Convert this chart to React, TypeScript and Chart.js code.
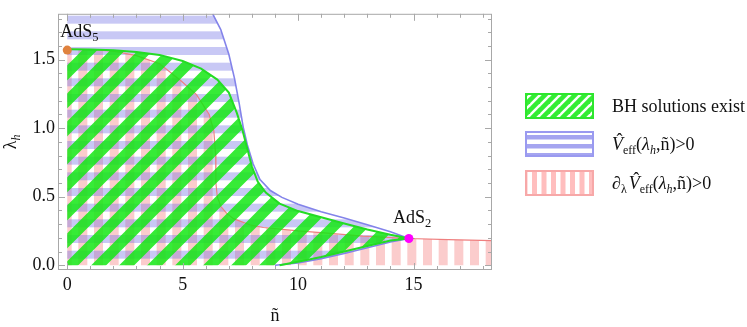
import React, { useEffect, useRef } from 'react';
import { Chart, registerables } from 'chart.js';

Chart.register(...registerables);

const SERIF = '"Liberation Serif", "Times New Roman", Times, serif';
const F18 = `18px ${SERIF}`;
const I18 = `italic 18px ${SERIF}`;
const F12 = `12px ${SERIF}`;
const I12 = `italic 12px ${SERIF}`;

// Axis ranges and tick labels
const X_MIN = -0.4;
const X_MAX = 18.4;
const Y_MIN = -0.035;
const Y_MAX = 1.835;
const X_TICKS = [0, 5, 10, 15];
const Y_TICKS = [0, 0.5, 1.0, 1.5];

// Green region: BH solutions exist (upper boundary, then lower boundary)
const bhUpperN = [0, 1, 2, 3, 4, 5, 5.8, 6.5, 7.0, 7.35, 7.6, 7.8, 8.0, 8.25, 8.6, 9.2, 10, 11, 12, 13, 14, 14.8];
const bhUpperL = [1.577, 1.575, 1.569, 1.557, 1.535, 1.49, 1.435, 1.355, 1.26, 1.11, 0.98, 0.85, 0.72, 0.61, 0.53, 0.45, 0.395, 0.35, 0.305, 0.26, 0.222, 0.195];
const bhLowerN = [14.8, 14, 13, 12, 11, 10, 9.2];
const bhLowerL = [0.195, 0.18, 0.14, 0.1, 0.06, 0.025, 0];

// Blue region: V_eff > 0
const vUpperN = [6.3, 6.65, 7.0, 7.25, 7.45, 7.62, 7.8, 8.05, 8.35, 8.8, 9.3, 10, 11, 12, 13, 14, 14.8];
const vUpperL = [1.835, 1.72, 1.54, 1.36, 1.18, 1.01, 0.88, 0.74, 0.625, 0.545, 0.495, 0.445, 0.39, 0.345, 0.295, 0.245, 0.195];
const vLowerN = [14.8, 14, 13, 12, 11, 10, 9.0];
const vLowerL = [0.195, 0.17, 0.128, 0.086, 0.048, 0.016, 0];

// Pink region: d_lambda V_eff > 0 (boundary curve)
const dvN = [0, 1, 2, 3, 4, 4.9, 5.6, 6.15, 6.35, 6.43, 6.44, 6.5, 6.65, 6.9, 7.2, 7.9, 8.5, 10, 11.4, 12.8, 14.8, 16.5, 18.4];
const dvL = [1.577, 1.574, 1.563, 1.53, 1.47, 1.35, 1.245, 1.1, 0.98, 0.8, 0.6, 0.5, 0.43, 0.38, 0.34, 0.295, 0.275, 0.25, 0.232, 0.212, 0.195, 0.187, 0.179];

// Special points
const pointBase = ['AdS', 'AdS'];
const pointSub = ['5', '2'];
const pointN = [0, 14.8];
const pointL = [1.57, 0.195];
const pointColors = ['#e0823e', '#ff00ff'];

const FRAME = '#a8a8a8';
const GREEN_LINE = '#24dc24';
const BLUE_LINE = '#8383ea';
const PINK_LINE = '#ef7f7f';

type Seg = { t: string; f: string; dy?: number; dx?: number; hat?: boolean };

const legendSegs: Seg[][] = [
  [{ t: 'BH solutions exist', f: F18 }],
  [
    { t: 'V', f: I18, hat: true },
    { t: 'eff', f: F12, dy: 4 },
    { t: '(', f: F18 },
    { t: 'λ', f: I18 },
    { t: 'h', f: I12, dy: 4 },
    { t: ',ñ)>0', f: F18 },
  ],
  [
    { t: '∂', f: F18 },
    { t: 'λ', f: F12, dy: 4 },
    { t: 'V', f: I18, hat: true, dx: 2 },
    { t: 'eff', f: F12, dy: 4 },
    { t: '(', f: F18 },
    { t: 'λ', f: I18 },
    { t: 'h', f: I12, dy: 4 },
    { t: ',ñ)>0', f: F18 },
  ],
];

const pts = (ns: number[], ls: number[]) => ns.map((n, i) => ({ x: n, y: ls[i] }));

function makeTile(w: number, h: number, draw: (g: CanvasRenderingContext2D) => void) {
  const c = document.createElement('canvas');
  c.width = w;
  c.height = h;
  const g = c.getContext('2d')!;
  draw(g);
  return g.createPattern(c, 'repeat')!;
}
function hStripes(color: string, period: number, band: number, reps: number) {
  const h = Math.round(period * reps);
  return makeTile(4, h, (g) => {
    g.fillStyle = color;
    for (let i = 0; i < reps; i++) g.fillRect(0, i * period, 4, band);
  });
}
function vStripes(color: string, period: number, band: number, reps: number) {
  const w = Math.round(period * reps);
  return makeTile(w, 4, (g) => {
    g.fillStyle = color;
    for (let i = 0; i < reps; i++) g.fillRect(i * period, 0, band, 4);
  });
}
function diag(color: string, P: number, w: number) {
  return makeTile(P, P, (g) => {
    g.strokeStyle = color;
    g.lineWidth = w;
    g.lineCap = 'square';
    for (const k of [-1, 0, 1]) {
      g.beginPath();
      g.moveTo(k * P, P);
      g.lineTo(k * P + P, 0);
      g.stroke();
    }
  });
}

function richWidth(ctx: CanvasRenderingContext2D, segs: Seg[]) {
  let w = 0;
  for (const s of segs) {
    ctx.font = s.f;
    w += (s.dx || 0) + ctx.measureText(s.t).width;
  }
  return w;
}
function drawRich(ctx: CanvasRenderingContext2D, segs: Seg[], x: number, y: number) {
  let cx = x;
  ctx.textAlign = 'left';
  ctx.textBaseline = 'alphabetic';
  for (const s of segs) {
    cx += s.dx || 0;
    ctx.font = s.f;
    ctx.fillText(s.t, cx, y + (s.dy || 0));
    const w = ctx.measureText(s.t).width;
    if (s.hat) {
      ctx.font = F18;
      ctx.textAlign = 'center';
      ctx.fillText('ˆ', cx + w / 2 + 2, y - 4);
      ctx.textAlign = 'left';
    }
    cx += w;
  }
}

export default function App() {
  const ref = useRef<HTMLCanvasElement>(null);

  useEffect(() => {
    const canvas = ref.current!;
    const pinkPat = vStripes('rgba(245,120,120,0.38)', 47 / 3, 9, 3);
    const bluePat = hStripes('rgba(110,110,230,0.38)', 47 / 3, 8, 3);
    const greenPat = diag('rgba(20,232,20,0.85)', 28, 10.6);
    const swGreen = diag('rgba(30,235,30,0.9)', 10, 4.6);
    const swBlue = hStripes('rgba(165,165,240,1)', 9, 4.5, 2);
    const swPink = vStripes('rgba(255,190,190,1)', 9.5, 5, 2);
    const swatchPats = [swGreen, swBlue, swPink];
    const swatchBorders = ['#2ee62e', '#9a9af0', '#f7a8a8'];

    const greenPoly = [{ x: 0, y: 0 }, ...pts(bhUpperN, bhUpperL), ...pts(bhLowerN, bhLowerL).slice(1), { x: 0, y: 0 }];
    const bluePoly = [{ x: 0, y: 0 }, { x: 0, y: Y_MAX }, ...pts(vUpperN, vUpperL), ...pts(vLowerN, vLowerL).slice(1), { x: 0, y: 0 }];
    const pinkPoly = [{ x: 0, y: 0 }, ...pts(dvN, dvL), { x: X_MAX, y: 0 }, { x: 0, y: 0 }];

    const decor = {
      id: 'decor',
      afterDatasetsDraw(chart: any) {
        const { ctx, chartArea: a, scales } = chart;
        const xs = scales.x;
        const ys = scales.y;
        ctx.save();
        // frame
        ctx.strokeStyle = FRAME;
        ctx.lineWidth = 1;
        ctx.strokeRect(a.left + 0.5, a.top + 0.5, a.right - a.left - 1, a.bottom - a.top - 1);
        // ticks
        ctx.beginPath();
        for (let v = 0; v <= 18; v++) {
          const px = Math.round(xs.getPixelForValue(v)) + 0.5;
          const len = X_TICKS.includes(v) ? 7 : 4;
          ctx.moveTo(px, a.bottom);
          ctx.lineTo(px, a.bottom - len);
          ctx.moveTo(px, a.top);
          ctx.lineTo(px, a.top + len);
        }
        for (let k = 0; k <= 18; k++) {
          const v = k / 10;
          const py = Math.round(ys.getPixelForValue(v)) + 0.5;
          const len = k % 5 === 0 ? 7 : 4;
          ctx.moveTo(a.left, py);
          ctx.lineTo(a.left + len, py);
          ctx.moveTo(a.right, py);
          ctx.lineTo(a.right - len, py);
        }
        ctx.stroke();

        ctx.fillStyle = '#111';
        // point labels
        const offs = [
          [-7, -12.7],
          [-16, -15.3],
        ];
        for (let i = 0; i < pointN.length; i++) {
          const px = xs.getPixelForValue(pointN[i]);
          const py = ys.getPixelForValue(pointL[i]);
          drawRich(
            ctx,
            [
              { t: pointBase[i], f: F18 },
              { t: pointSub[i], f: `12.5px ${SERIF}`, dy: 4 },
            ],
            px + offs[i][0],
            py + offs[i][1]
          );
        }
        // x axis title
        ctx.font = F18;
        ctx.textAlign = 'center';
        ctx.textBaseline = 'alphabetic';
        ctx.fillText('ñ', (a.left + a.right) / 2, 321);
        // y axis title (rotated)
        const ySegs: Seg[] = [
          { t: 'λ', f: F18 },
          { t: 'h', f: I12, dy: 4 },
        ];
        ctx.save();
        ctx.translate(15.5, (a.top + a.bottom) / 2);
        ctx.rotate(-Math.PI / 2);
        const yw = richWidth(ctx, ySegs);
        drawRich(ctx, ySegs, -yw / 2, 0);
        ctx.restore();

        // legend
        const sx = 525;
        const sw = 69;
        const sh = 26;
        const sys = [93, 131, 170];
        for (let i = 0; i < 3; i++) {
          const sy = sys[i];
          ctx.fillStyle = '#fff';
          ctx.fillRect(sx, sy, sw, sh);
          ctx.fillStyle = swatchPats[i];
          ctx.fillRect(sx, sy, sw, sh);
          ctx.strokeStyle = swatchBorders[i];
          ctx.lineWidth = 2;
          ctx.strokeRect(sx + 1, sy + 1, sw - 2, sh - 2);
          ctx.fillStyle = '#111';
          drawRich(ctx, legendSegs[i], 612, sy + sh / 2 + 6.3);
        }
        ctx.restore();
      },
    };

    const chart = new Chart(canvas, {
      type: 'line',
      data: {
        datasets: [
          { data: pinkPoly, fill: 'shape', backgroundColor: pinkPat as any, borderColor: 'transparent', borderWidth: 0, order: 10 },
          { data: bluePoly, fill: 'shape', backgroundColor: bluePat as any, borderColor: 'transparent', borderWidth: 0, order: 9 },
          { data: pts(dvN, dvL), fill: false, borderColor: PINK_LINE, borderWidth: 1.2, order: 8 },
          {
            data: [...pts(vUpperN, vUpperL), ...pts(vLowerN, vLowerL).slice(1)],
            fill: false,
            borderColor: BLUE_LINE,
            borderWidth: 1.6,
            order: 7,
          },
          { data: greenPoly, fill: 'shape', backgroundColor: greenPat as any, borderColor: 'transparent', borderWidth: 0, order: 6 },
          {
            data: [...pts(bhUpperN, bhUpperL), ...pts(bhLowerN, bhLowerL).slice(1)],
            fill: false,
            borderColor: GREEN_LINE,
            borderWidth: 2,
            order: 5,
          },
          ...pointN.map((n, i) => ({
            data: [{ x: n, y: pointL[i] }],
            showLine: false,
            pointRadius: 4.5,
            pointBackgroundColor: pointColors[i],
            pointBorderWidth: 0,
            borderColor: pointColors[i],
            order: 1,
          })),
        ] as any,
      },
      options: {
        responsive: false,
        animation: false,
        devicePixelRatio: 1,
        events: [],
        layout: { padding: { left: 0, right: 255, top: 2, bottom: 0 } },
        elements: { point: { radius: 0 }, line: { tension: 0 } },
        plugins: { legend: { display: false }, tooltip: { enabled: false } },
        scales: {
          x: {
            type: 'linear',
            bounds: 'data',
            min: X_MIN,
            max: X_MAX,
            grid: { display: false, drawTicks: false },
            border: { display: false },
            ticks: { autoSkip: false, maxRotation: 0, padding: 4, color: '#111', font: { family: SERIF, size: 18 } },
            afterBuildTicks: (s: any) => {
              s.ticks = X_TICKS.map((v) => ({ value: v }));
            },
            afterFit: (s: any) => {
              s.height = 57;
            },
          },
          y: {
            type: 'linear',
            bounds: 'data',
            min: Y_MIN,
            max: Y_MAX,
            grid: { display: false, drawTicks: false },
            border: { display: false },
            ticks: {
              autoSkip: false,
              padding: 3,
              color: '#111',
              font: { family: SERIF, size: 18 },
              callback: (v: any) => Number(v).toFixed(1),
            },
            afterBuildTicks: (s: any) => {
              s.ticks = Y_TICKS.map((v) => ({ value: v }));
            },
            afterFit: (s: any) => {
              s.width = 58;
            },
          },
        },
      } as any,
      plugins: [decor],
    });
    return () => chart.destroy();
  }, []);

  return (
    <div style={{ position: 'fixed', left: 0, top: 0, width: 747, height: 327, background: '#fff' }}>
      <canvas ref={ref} width={747} height={327} style={{ width: 747, height: 327, display: 'block' }} />
    </div>
  );
}
